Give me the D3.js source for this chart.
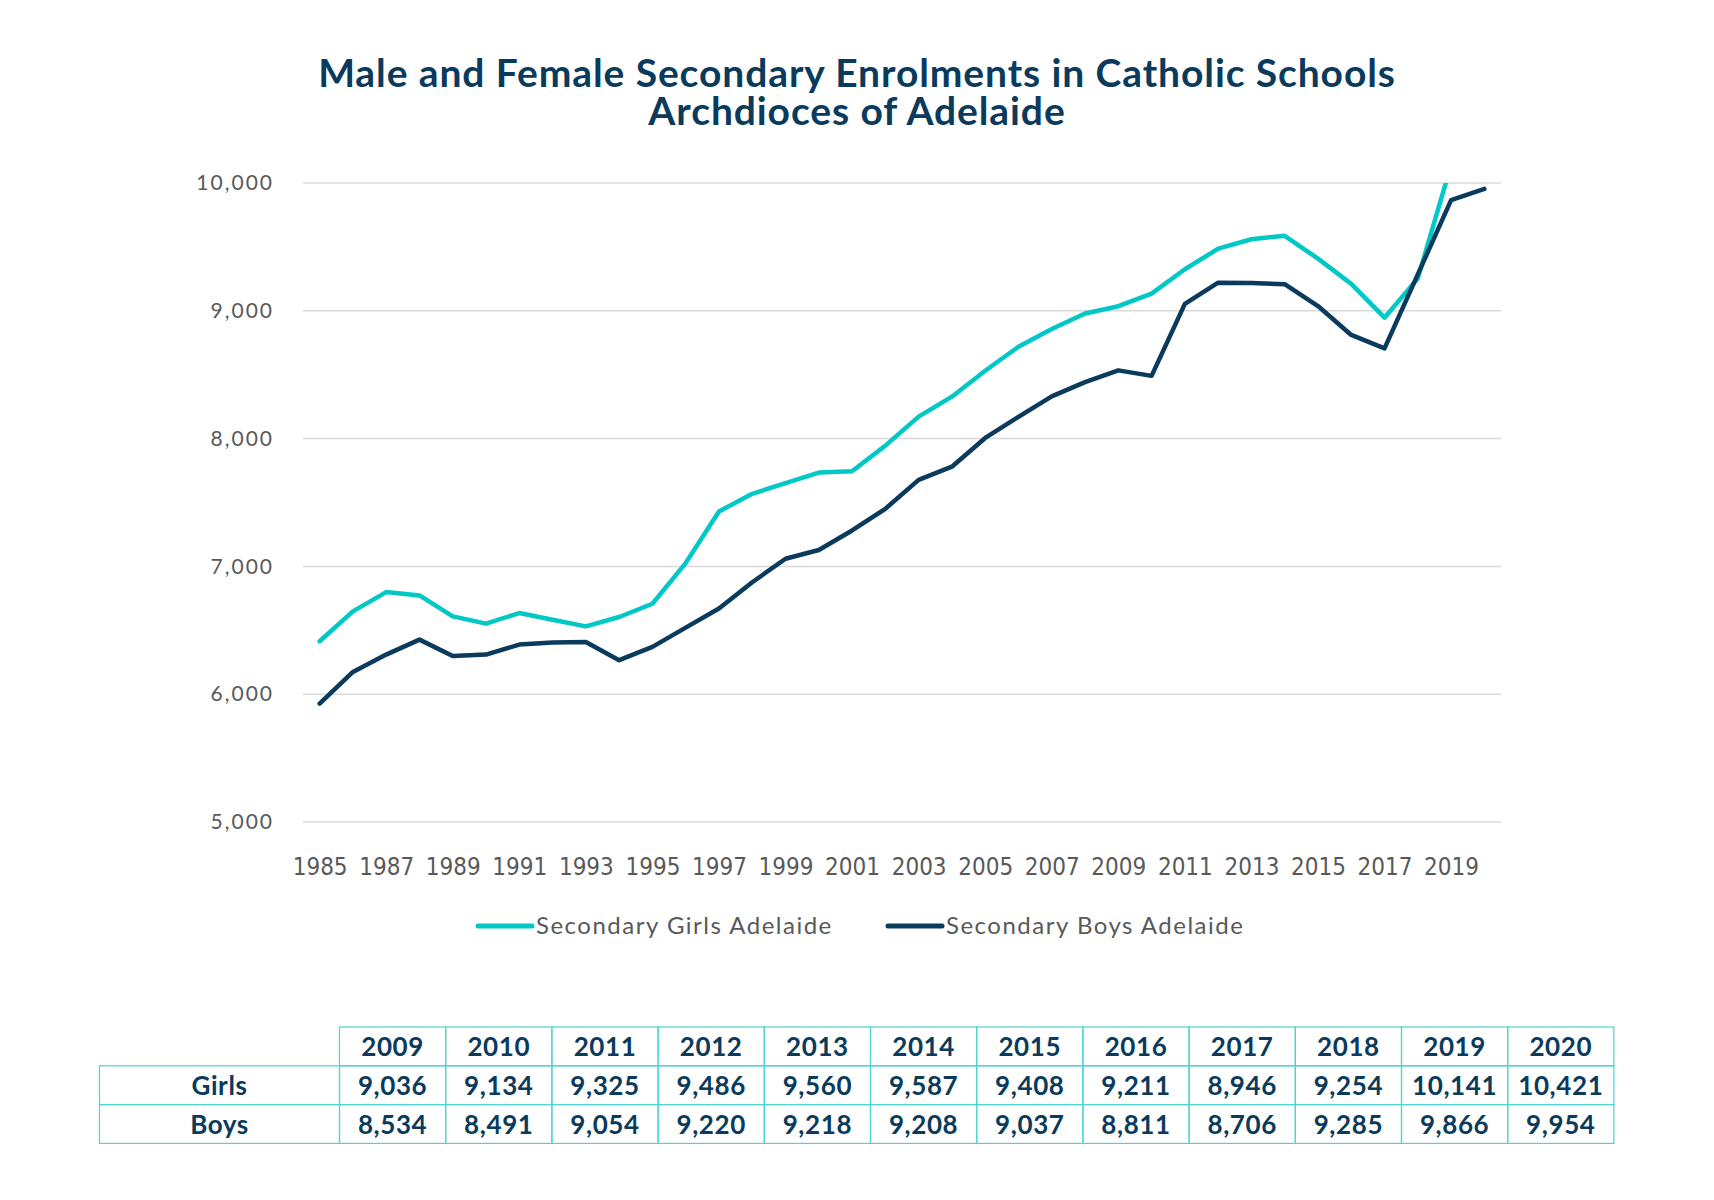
<!DOCTYPE html>
<html>
<head>
<meta charset="utf-8">
<script src="https://cdn.jsdelivr.net/npm/d3@7"></script>
<style>
  html, body { margin: 0; padding: 0; background: #ffffff; }
  svg { display: block; }
</style>
</head>
<body>
<script>
// ---------- DATA ----------
const years = d3.range(1985, 2021);
const girls = [6414, 6648, 6799, 6773, 6609, 6552, 6635, 6583, 6531, 6604, 6708, 7026,
               7430, 7568, 7651, 7734, 7745, 7945, 8172, 8328, 8531, 8719, 8857, 8979,
               9036, 9134, 9325, 9486, 9560, 9587, 9408, 9211, 8946, 9254, 10141, 10421];
const boys  = [5927, 6174, 6310, 6427, 6299, 6310, 6388, 6404, 6409, 6266, 6370, 6521,
               6670, 6876, 7060, 7128, 7281, 7451, 7677, 7780, 8005, 8170, 8330, 8442,
               8534, 8491, 9054, 9220, 9218, 9208, 9037, 8811, 8706, 9285, 9866, 9954];
const yTicks = [5000, 6000, 7000, 8000, 9000, 10000];
const xTickYears = d3.range(1985, 2020, 2);
const tableYears = d3.range(2009, 2021);
const seriesNames = ["Secondary Girls Adelaide", "Secondary Boys Adelaide"];
const titleLines = ["Male and Female Secondary Enrolments in Catholic Schools", "Archdioces of Adelaide"];

// ---------- STYLE ----------
const W = 1714, H = 1200;
const navy = "#0a3a5c", teal = "#00c8c6", grey = "#595959", grid = "#d9d9d9", tableLine = "#4fd3d3";
const plot = { left: 303, right: 1501, top: 183, bottom: 822 };

const svg = d3.select("body").append("svg").attr("width", W).attr("height", H);

// Title
svg.append("g").selectAll("text").data(titleLines).join("text")
  .attr("x", 857).attr("y", (d, i) => 87 + i * 38)
  .attr("text-anchor", "middle")
  .attr("font-family", "Lato, 'Open Sans', sans-serif")
  .attr("font-weight", 700).attr("font-size", 39).attr("letter-spacing", 0.9)
  .attr("fill", navy).text(d => d);

// Scales
const x = d3.scalePoint().domain(years).range([plot.left, plot.right]).padding(0.5);
const y = d3.scaleLinear().domain([5000, 10000]).range([plot.bottom, plot.top]);

// Gridlines
svg.append("g").selectAll("line").data(yTicks).join("line")
  .attr("x1", plot.left).attr("x2", plot.right)
  .attr("y1", d => y(d)).attr("y2", d => y(d))
  .attr("stroke", grid).attr("stroke-width", 1.5);

// Y axis labels
const yAxis = d3.axisLeft(y).tickValues(yTicks).tickFormat(d3.format(",")).tickSize(0).tickPadding(0);
const yg = svg.append("g").attr("transform", `translate(274,0)`).call(yAxis);
yg.select(".domain").remove();
yg.selectAll("text")
  .attr("font-family", "Lato, 'Open Sans', sans-serif").attr("font-size", 21)
  .attr("letter-spacing", 2).attr("fill", grey);

// X axis labels
const xAxis = d3.axisBottom(x).tickValues(xTickYears).tickSize(0).tickPadding(0);
const xg = svg.append("g").attr("transform", `translate(0,858)`).call(xAxis);
xg.select(".domain").remove();
xg.selectAll("text")
  .attr("font-family", "'Liberation Sans Narrow', 'DejaVu Sans Condensed', sans-serif")
  .attr("font-size", 24).attr("fill", grey);

// Clip
svg.append("clipPath").attr("id", "plotclip").append("rect")
  .attr("x", plot.left - 20).attr("y", plot.top)
  .attr("width", plot.right - plot.left + 40).attr("height", plot.bottom - plot.top + 20);

const line = d3.line().x((d, i) => x(years[i])).y(d => y(d));
const lg = svg.append("g").attr("clip-path", "url(#plotclip)");
[[girls, teal], [boys, navy]].forEach(([vals, col]) => {
  lg.append("path").datum(vals).attr("d", line)
    .attr("fill", "none").attr("stroke", col).attr("stroke-width", 4.5)
    .attr("stroke-linecap", "round").attr("stroke-linejoin", "round");
});

// Legend
const legend = [
  { name: seriesNames[0], color: teal, x: 478 },
  { name: seriesNames[1], color: navy, x: 888 }
];
const leg = svg.append("g").selectAll("g").data(legend).join("g")
  .attr("transform", d => `translate(${d.x},926)`);
leg.append("line").attr("x1", 0).attr("x2", 54).attr("y1", 0).attr("y2", 0)
  .attr("stroke", d => d.color).attr("stroke-width", 5).attr("stroke-linecap", "round");
leg.append("text").attr("x", 58).attr("y", 8)
  .attr("font-family", "Lato, 'Open Sans', sans-serif").attr("font-size", 24)
  .attr("letter-spacing", 1.5)
  .attr("fill", grey).text(d => d.name);

// Table
const tLeft = 99.5, tLabelRight = 339.5, colW = 106.2, rowTop = 1027, rowH = 38.8;
const tx = d3.scaleBand().domain(tableYears).range([tLabelRight, tLabelRight + colW * tableYears.length]);
const tg = svg.append("g");
const idx0 = years.indexOf(tableYears[0]);
const rows = [
  { label: "Girls", vals: girls.slice(idx0, idx0 + tableYears.length) },
  { label: "Boys", vals: boys.slice(idx0, idx0 + tableYears.length) }
];
const fmt = d3.format(",");
const tableFont = "Lato, 'Open Sans', sans-serif";
const tfs = 26, tdy = 9.5;

// header cells
tg.selectAll("rect.h").data(tableYears).join("rect")
  .attr("x", d => tx(d)).attr("y", rowTop).attr("width", tx.bandwidth()).attr("height", rowH)
  .attr("fill", "none").attr("stroke", tableLine).attr("stroke-width", 1.2);
tg.selectAll("text.h").data(tableYears).join("text")
  .attr("x", d => tx(d) + tx.bandwidth() / 2).attr("y", rowTop + rowH / 2 + tdy)
  .attr("text-anchor", "middle").attr("font-family", tableFont).attr("font-weight", 700)
  .attr("font-size", tfs).attr("letter-spacing", 0.6).attr("fill", navy).text(d => d);

rows.forEach((r, ri) => {
  const ry = rowTop + rowH * (ri + 1);
  tg.append("rect").attr("x", tLeft).attr("y", ry).attr("width", tLabelRight - tLeft).attr("height", rowH)
    .attr("fill", "none").attr("stroke", tableLine).attr("stroke-width", 1.2);
  tg.append("text").attr("x", (tLeft + tLabelRight) / 2).attr("y", ry + rowH / 2 + tdy)
    .attr("text-anchor", "middle").attr("font-family", tableFont).attr("font-weight", 700)
    .attr("font-size", tfs).attr("letter-spacing", 0.6).attr("fill", navy).text(r.label);
  tg.selectAll(null).data(r.vals).join("rect")
    .attr("x", (d, i) => tx(tableYears[i])).attr("y", ry).attr("width", tx.bandwidth()).attr("height", rowH)
    .attr("fill", "none").attr("stroke", tableLine).attr("stroke-width", 1.2);
  tg.selectAll(null).data(r.vals).join("text")
    .attr("x", (d, i) => tx(tableYears[i]) + tx.bandwidth() / 2).attr("y", ry + rowH / 2 + tdy)
    .attr("text-anchor", "middle").attr("font-family", tableFont).attr("font-weight", 700)
    .attr("font-size", tfs).attr("letter-spacing", 0.6).attr("fill", navy).text(d => fmt(d));
});
</script>
</body>
</html>
